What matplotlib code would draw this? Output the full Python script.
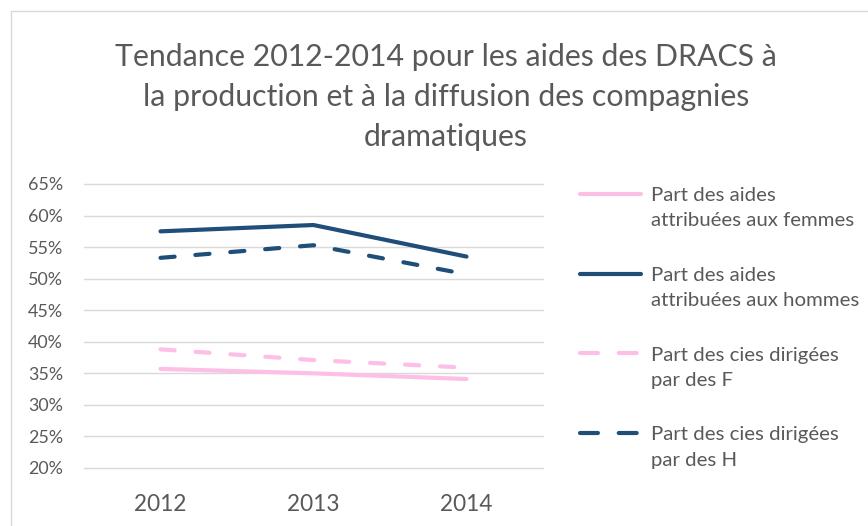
import numpy as np
import matplotlib
matplotlib.use('Agg')
import matplotlib.pyplot as plt
from matplotlib.legend_handler import HandlerLine2D
from matplotlib.patches import Rectangle

years = ['2012', '2013', '2014']
aides_femmes = [35.7, 35.0, 34.1]
aides_hommes = [57.5, 58.5, 53.5]
cies_femmes = [38.8, 37.1, 35.9]
cies_hommes = [53.3, 55.3, 50.7]
labels = ['Part des aides\nattribuées aux femmes',
          'Part des aides\nattribuées aux hommes',
          'Part des cies dirigées\npar des F',
          'Part des cies dirigées\npar des H']
yticks = [20, 25, 30, 35, 40, 45, 50, 55, 60, 65]

pink = '#FDBFE6'
blue = '#1F4E79'
grey = '#595959'
plt.rcParams['font.family'] = ['Lato', 'DejaVu Sans']


class TopHandler(HandlerLine2D):
    # put the legend line level with the first text line, like Excel
    def create_artists(self, legend, orig_handle, xdescent, ydescent, width, height, fontsize, trans):
        arts = super().create_artists(legend, orig_handle, xdescent, ydescent, width, height, fontsize, trans)
        for a in arts:
            a.set_ydata(np.asarray(a.get_ydata()) + fontsize * 0.70)
            if orig_handle.get_linestyle() == '--':
                a.set_dashes((4.3, 5.0))
        return arts


fig = plt.figure(figsize=(8.68, 5.26), dpi=100)
fig.patches.append(Rectangle((11 / 868, -0.1), 1.2, 1 - 11 / 526 + 0.1, transform=fig.transFigure,
                             fill=False, edgecolor='#D9D9D9', linewidth=1))
ax = fig.add_axes([84 / 868, 1 - 468 / 526, (543 - 84) / 868, (468 - 184) / 526])

x = np.arange(len(years))
lw = 3.0
ax.plot(x, aides_femmes, color=pink, lw=lw, solid_capstyle='round', label=labels[0])
ax.plot(x, aides_hommes, color=blue, lw=lw, solid_capstyle='round', label=labels[1])
ax.plot(x, cies_femmes, color=pink, lw=lw, ls='--', dashes=(3.4, 5.0), dash_capstyle='round', label=labels[2])
ax.plot(x, cies_hommes, color=blue, lw=lw, ls='--', dashes=(3.4, 5.0), dash_capstyle='round', label=labels[3])

ax.set_xlim(-0.5, 2.5)
ax.set_ylim(20, 65)
ax.set_yticks(yticks)
ax.set_yticklabels([f'{v}%' for v in yticks])
ax.set_xticks(x)
ax.set_xticklabels(years)
ax.grid(axis='y', color='#D9D9D9', linewidth=1)
for g in ax.get_ygridlines():
    g.set_clip_on(False)
ax.set_axisbelow(True)
for s in ax.spines.values():
    s.set_visible(False)
ax.tick_params(axis='y', length=0, pad=15, labelsize=12.9, labelcolor=grey)
ax.tick_params(axis='x', length=0, pad=19, labelsize=16.3, labelcolor=grey)

fig.text(446 / 868, 1 - 97 / 526, 'Tendance 2012-2014 pour les aides des DRACS à\nla production et à la diffusion des compagnies\ndramatiques',
         ha='center', va='center', fontsize=21.8, color=grey, linespacing=1.52)

leg = ax.legend(handler_map={plt.Line2D: TopHandler()}, loc='upper left',
                bbox_to_anchor=(580 / 868, 1 - 187 / 526), bbox_transform=fig.transFigure,
                frameon=False, fontsize=14.7, labelcolor=grey, handlelength=3.0,
                handletextpad=0.5, labelspacing=1.83, borderaxespad=0, borderpad=0)
for t in leg.get_texts():
    t.set_linespacing(1.6)

fig.savefig('out.png', dpi=100)
